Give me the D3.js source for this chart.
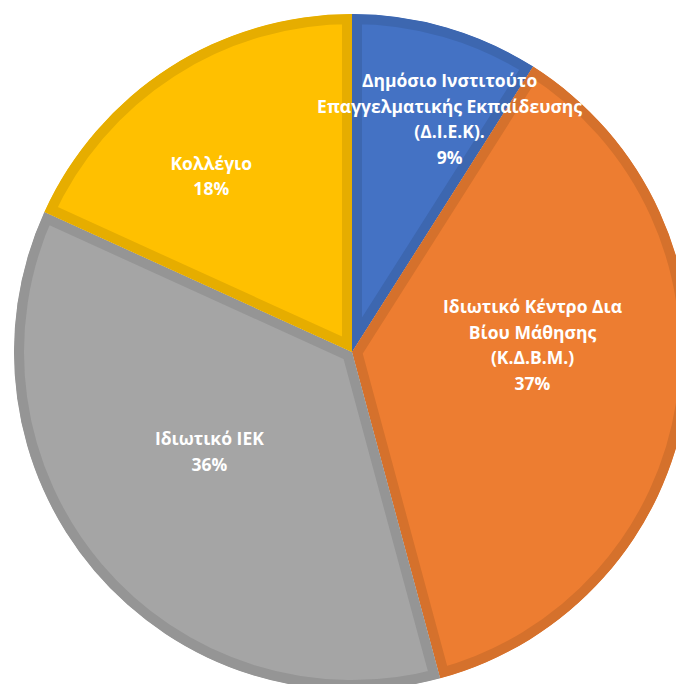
<!DOCTYPE html>
<html lang="el">
<head>
<meta charset="utf-8">
<style>
  body { margin: 0; background: #fff; }
  svg { display: block; }
  .lbl { font-family: "Open Sans", "Noto Sans", sans-serif; font-weight: 700; fill: #fff; }
</style>
</head>
<body>
<svg width="676" height="684"></svg>
<script src="https://d3js.org/d3.v7.min.js"></script>
<script>
// slice data, clockwise from 12 o'clock
var categories = [
  ["Δημόσιο Ινστιτούτο", "Επαγγελματικής Εκπαίδευσης", "(Δ.Ι.Ε.Κ)."],
  ["Ιδιωτικό Κέντρο Δια", "Βίου Μάθησης", "(Κ.Δ.Β.Μ.)"],
  ["Ιδιωτικό ΙΕΚ"],
  ["Κολλέγιο"]
];
var values = [9.0, 36.8, 36.0, 18.2];
var percentLabels = ["9%", "37%", "36%", "18%"];

var fills   = ["#4472C4", "#ED7D31", "#A5A5A5", "#FFC000"];
var borders = ["#3D67B0", "#D5712C", "#959595", "#E6AD00"];
// nudge of each label block from the arc centroid (Excel best-fit look)
var nudges = [[41, -39], [-20, -38], [12, -32], [-31, -6]];

var svg = d3.select("svg"),
    cx = 352, cy = 352,
    radius = 338,
    lineH = 25.5;

var pie = d3.pie().sort(null).value(function (d) { return d; });
var arcs = pie(values);

var arc = d3.arc().innerRadius(0).outerRadius(radius);
var labelArc = d3.arc().innerRadius(radius * 0.6).outerRadius(radius * 0.6);

var g = svg.append("g").attr("transform", "translate(" + cx + "," + cy + ")");
var defs = svg.append("defs");

arcs.forEach(function (a, i) {
    defs.append("clipPath").attr("id", "clip" + i)
        .append("path").attr("d", arc(a));
});

// each slice keeps its own border on the inside
g.selectAll(".slice")
    .data(arcs)
    .enter()
    .append("path")
    .attr("class", "slice")
    .attr("d", arc)
    .attr("clip-path", function (d, i) { return "url(#clip" + i + ")"; })
    .attr("fill", function (d, i) { return fills[i]; })
    .attr("stroke", function (d, i) { return borders[i]; })
    .attr("stroke-width", 20)
    .attr("stroke-linejoin", "miter");

var labels = g.selectAll(".lbl")
    .data(arcs)
    .enter()
    .append("text")
    .attr("class", "lbl")
    .attr("font-size", 17.5)
    .attr("text-anchor", "middle")
    .attr("transform", function (d, i) {
        var c = labelArc.centroid(d);
        return "translate(" + (c[0] + nudges[i][0]) + "," + (c[1] + nudges[i][1]) + ")";
    });

labels.each(function (d, i) {
    var lines = categories[i].concat([percentLabels[i]]);
    var top = -(lines.length - 1) * lineH / 2;
    d3.select(this).selectAll("tspan")
        .data(lines)
        .enter()
        .append("tspan")
        .attr("x", 0)
        .attr("y", function (t, j) { return top + j * lineH; })
        .attr("dominant-baseline", "central")
        .text(function (t) { return t; });
});
</script>
</body>
</html>
